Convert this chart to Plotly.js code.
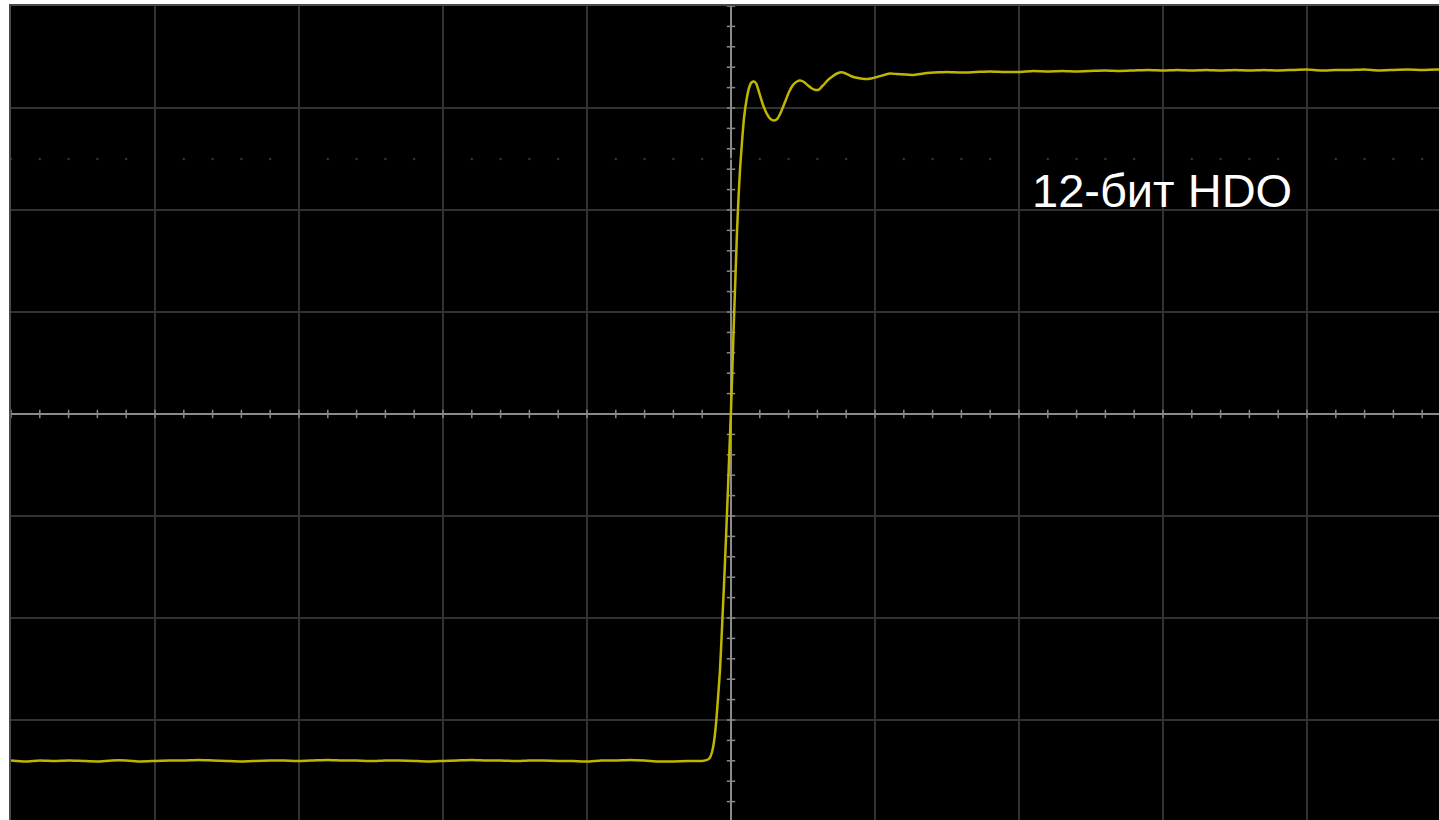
<!DOCTYPE html>
<html>
<head>
<meta charset="utf-8">
<script src="https://cdn.plot.ly/plotly-3.0.1.min.js"></script>
<style>
  html, body { margin:0; padding:0; background:#ffffff; overflow:hidden; }
  #myDiv { width:1451px; height:822px; }
</style>
</head>
<body>
<div id="myDiv"></div>
<script>

// time in ns (1 ns/div), voltage in mV (100 mV/div)
var lowTime=[-5.0,-4.9,-4.8,-4.7,-4.6,-4.5,-4.4,-4.3,-4.2,-4.1,-4.0,-3.9,-3.8,-3.7,-3.6,-3.5,
  -3.4,-3.3,-3.2,-3.1,-3.0,-2.9,-2.8,-2.7,-2.6,-2.5,-2.4,-2.3,-2.2,-2.1,-2.0,-1.9,-1.8,-1.7,
  -1.6,-1.5,-1.4,-1.3,-1.2,-1.1,-1.0,-0.9,-0.8,-0.7,-0.6,-0.5,-0.4,-0.3,-0.2];
var lowVolt=[-339.7,-340.7,-339.7,-340.2,-339.7,-340.2,-340.7,-339.7,-339.7,-340.7,-340.2,-339.7,
  -339.7,-339.2,-339.7,-340.2,-340.7,-340.2,-339.7,-339.7,-340.2,-339.7,-339.2,-339.7,-339.7,
  -340.2,-339.7,-339.7,-340.2,-340.7,-340.2,-339.7,-339.2,-339.7,-339.7,-340.2,-339.7,-339.7,
  -340.2,-340.2,-340.7,-339.7,-339.7,-339.2,-339.7,-340.7,-340.7,-340.2,-340.2];

var edgeTime=[-0.1597,-0.1458,-0.1319,-0.1215,-0.1111,-0.1007,-0.0903,-0.0764,-0.0625,-0.0486,
  -0.0347,-0.0208,-0.0104,0,0.0104,0.0208,0.0313,0.0417,0.0521,0.0625,0.0764,0.0903,0.1076,
  0.1250,0.1424,0.1597,0.1771,0.1944,0.2222,0.2500,0.2743,0.2986,0.3229,0.3472,0.3750,0.4028,
  0.4306,0.4583,0.4792,0.5069,0.5347,0.5625,0.5903,0.6111,0.6389,0.6736,0.7083,0.7431,0.7708,
  0.8056,0.8403,0.8819,0.9306,0.9722,1.0139,1.0625,1.1042,1.1528,1.2083,1.2639,1.3125,1.3611,
  1.4514];
var edgeVolt=[-338.7,-336.8,-331.4,-324.5,-313.7,-298.0,-278.4,-251.0,-209.8,-167.6,
  -121.6,-72.5,-33.3,3.9,48.0,94.1,136.3,178.4,211.8,239.2,266.7,290.2,307.8,
  319.6,325.0,326.0,323.5,315.7,303.0,294.1,289.2,287.7,289.7,296.1,305.9,315.7,
  322.5,326.0,327.0,325.5,322.1,319.1,317.6,318.1,322.1,327.5,331.4,334.3,335.0,
  333.3,330.9,329.4,328.4,328.9,330.4,332.4,333.8,333.3,332.8,332.4,333.3,334.3,
  335.0];

var highTime=[1.5,1.6,1.7,1.8,1.9,2.0,2.1,2.2,2.3,2.4,2.5,2.6,2.7,2.8,2.9,3.0,3.1,3.2,3.3,3.4,
  3.5,3.6,3.7,3.8,3.9,4.0,4.1,4.2,4.3,4.4,4.5,4.6,4.7,4.8,4.9,5.0];
var highVolt=[335.3,334.8,335.3,335.8,335.3,335.3,336.3,335.8,336.3,335.8,336.3,336.8,336.3,
  336.8,337.3,336.8,337.3,336.8,337.3,336.8,337.3,336.8,337.3,336.8,337.3,337.7,336.8,337.3,
  337.3,337.7,336.8,337.3,337.7,337.3,337.7,337.3];

var labelText="12-бит HDO";

/**************************************************************/
// small crosses along the two centre lines, every 1/5 division
function makeScaleTicks() {
  var hx=[], hy=[], vx=[], vy=[], dx=[], dy=[];
  for(var k=0; k<=50; k++) {
    hx.push(-5+k*0.2); hy.push(0);
    dx.push(-5+k*0.2); dy.push(250);
  }
  for(var k=0; k<=40; k++) {
    vx.push(0); vy.push(-400+k*20);
  }
  var h={ x:hx, y:hy, mode:'markers', type:'scatter', hoverinfo:'skip',
      marker:{symbol:'line-ns', size:6, line:{color:'#8a8a8a', width:1.5}} };
  var v={ x:vx, y:vy, mode:'markers', type:'scatter', hoverinfo:'skip',
      marker:{symbol:'line-ew', size:6, line:{color:'#8a8a8a', width:1.5}} };
  var d={ x:dx, y:dy, mode:'markers', type:'scatter', hoverinfo:'skip',
      marker:{symbol:'circle', size:2.5, color:'#333333'} };
  return [d,h,v];
}

function makeTrace() {
  var tx=lowTime.concat(edgeTime).concat(highTime);
  var ty=lowVolt.concat(edgeVolt).concat(highVolt);
  return { x:tx, y:ty, mode:'lines', type:'scatter',
      line:{color:'#c0b600', width:2.5, shape:'spline', smoothing:0.5} };
}

function getLayout() {
  var p={
    width:1451, height:822,
    margin:{l:11, t:6, r:0, b:0},
    paper_bgcolor:'#ffffff',
    plot_bgcolor:'#000000',
    showlegend:false,
    xaxis:{
      range:[-5,5], dtick:1, tick0:0,
      showgrid:true, gridcolor:'#323232', gridwidth:1.5,
      zeroline:true, zerolinecolor:'#8a8a8a', zerolinewidth:1.5,
      showline:true, mirror:true, linecolor:'#4a4a4a', linewidth:2,
      showticklabels:false, ticks:''
    },
    yaxis:{
      range:[-400,400], dtick:100, tick0:0,
      showgrid:true, gridcolor:'#323232', gridwidth:1.5,
      zeroline:true, zerolinecolor:'#8a8a8a', zerolinewidth:1.5,
      showline:true, mirror:true, linecolor:'#4a4a4a', linewidth:2,
      showticklabels:false, ticks:''
    },
    annotations:[{
      x:2.075, y:219, xref:'x', yref:'y',
      xanchor:'left', yanchor:'middle',
      text:labelText, showarrow:false,
      font:{family:'Liberation Sans, Arial, sans-serif', size:47, color:'#ffffff'}
    }]
  };
  return p;
}

var _data=makeScaleTicks();
_data.push(makeTrace());
Plotly.newPlot('myDiv', _data, getLayout(), {displayModeBar:false, staticPlot:true});

</script>
</body>
</html>
